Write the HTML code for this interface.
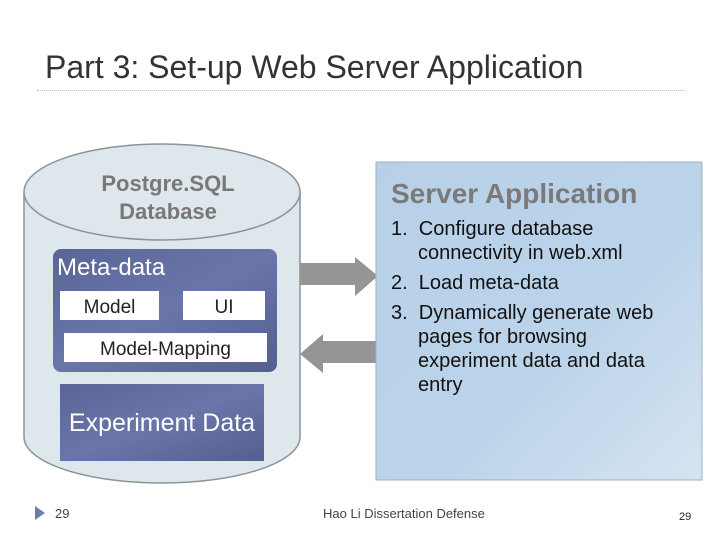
<!DOCTYPE html>
<html><head><style>
body{margin:0;width:720px;height:540px;background:#fff;font-family:"Liberation Sans",Arial,sans-serif;position:relative;overflow:hidden}
.a{position:absolute}
</style></head><body>
<div class="a" style="left:45px;top:49px;font-size:32px;color:#333">Part 3: Set-up Web Server Application</div>
<div class="a" style="left:37px;top:90px;width:648px;border-top:1px dotted #bbb"></div>
<svg class="a" style="left:0;top:0" width="720" height="540">
<defs>
<linearGradient id="g1" x1="0" y1="0" x2="1" y2="1"><stop offset="0" stop-color="#5a6596"/><stop offset=".5" stop-color="#6a76aa"/><stop offset="1" stop-color="#545f8e"/></linearGradient>
<linearGradient id="g2" x1="0" y1="0" x2="1" y2="1"><stop offset="0" stop-color="#b7d0e8"/><stop offset=".6" stop-color="#bcd4ea"/><stop offset="1" stop-color="#d6e4f2"/></linearGradient>
</defs>
<path d="M24 192 L24 437 A138 46 0 0 0 300 437 L300 192" fill="#dde7ec" stroke="#8a9398" stroke-width="1.5"/>
<ellipse cx="162" cy="192" rx="138" ry="48" fill="#dde7ec" stroke="#8a9398" stroke-width="1.5"/>
<rect x="53" y="249" width="224" height="123" rx="8" fill="url(#g1)"/>
<rect x="60" y="291" width="99" height="29" fill="#fff"/>
<rect x="183" y="291" width="82" height="29" fill="#fff"/>
<rect x="64" y="333" width="203" height="29" fill="#fff"/>
<rect x="60" y="384" width="204" height="77" fill="url(#g1)"/>
<polygon points="300,263 355,263 355,257 378,276 355,296 355,285 300,285" fill="#959595"/>
<polygon points="378,341 323,341 323,334 300,354 323,373 323,363 378,363" fill="#959595"/>
<rect x="376" y="162" width="326" height="318" fill="url(#g2)" stroke="#9fb0c0"/>
<polygon points="35,506 45,513 35,520" fill="#6b7fa8"/>
</svg>
<div class="a" style="left:68px;top:170px;width:200px;text-align:center;font-size:22px;font-weight:bold;color:#787878;line-height:28px">Postgre.SQL<br>Database</div>
<div class="a" style="left:57px;top:254px;font-size:24px;color:#fff">Meta-data</div>
<div class="a" style="left:60px;top:297px;width:99px;text-align:center;font-size:19px;color:#222">Model</div>
<div class="a" style="left:183px;top:297px;width:82px;text-align:center;font-size:19px;color:#222">UI</div>
<div class="a" style="left:64px;top:339px;width:203px;text-align:center;font-size:19px;color:#222">Model-Mapping</div>
<div class="a" style="left:50px;top:409px;width:224px;text-align:center;font-size:25px;color:#fff">Experiment Data</div>
<div class="a" style="left:391px;top:178px;font-size:28px;font-weight:bold;color:#7a7a7a">Server Application</div>
<div class="a" style="left:391px;top:217px;font-size:20px;color:#111;line-height:24px;width:300px">
<div style="padding-left:27px;text-indent:-27px;width:220px">1.&nbsp; Configure database connectivity in web.xml</div>
<div style="padding-left:27px;text-indent:-27px;margin-top:6px">2.&nbsp; Load meta-data</div>
<div style="padding-left:27px;text-indent:-27px;margin-top:6px;width:270px">3.&nbsp; Dynamically generate web pages for browsing experiment data and data entry</div>
</div>
<div class="a" style="left:55px;top:506px;font-size:13px;color:#444">29</div>
<div class="a" style="left:323px;top:506px;font-size:13px;color:#444">Hao Li Dissertation Defense</div>
<div class="a" style="left:679px;top:511px;font-size:11px;color:#222">29</div>
</body></html>
